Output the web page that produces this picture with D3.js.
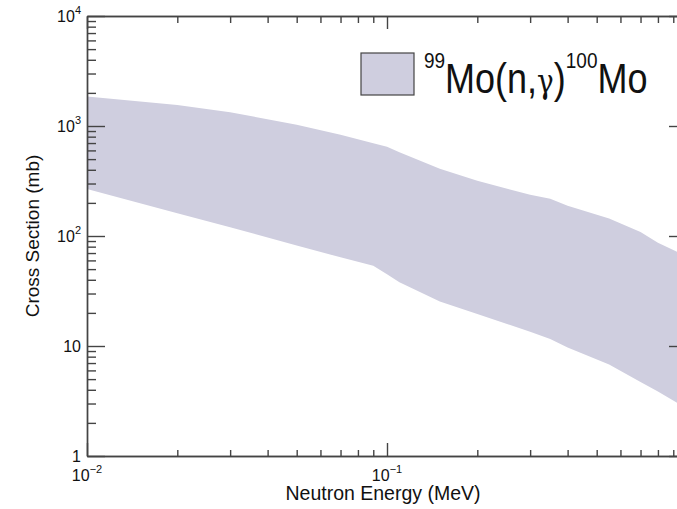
<!DOCTYPE html>
<html>
<head>
<meta charset="utf-8">
<script src="https://cdn.jsdelivr.net/npm/d3@7"></script>
<style>
  body { margin: 0; background: #fff; }
  svg { display: block; font-family: "Liberation Sans", Arial, Helvetica, sans-serif; }
  .axis path, .axis line { stroke: #444; stroke-width: 1.4; }
</style>
</head>
<body>
<svg width="677" height="509"></svg>
<script>
// band data: 99Mo(n,g)100Mo cross section range (mb) vs neutron energy (MeV)
const energies = [0.01, 0.02, 0.03, 0.05, 0.07, 0.09, 0.1, 0.11, 0.15, 0.2, 0.3, 0.35, 0.4, 0.55, 0.7, 0.8, 1.0];
const upperMb  = [1858, 1550, 1335, 1025, 832, 698, 649, 577, 409, 318, 237, 218, 188, 144, 109, 87, 65];
const lowerMb  = [267, 161, 120, 82, 64, 53.7, 45, 38, 25.4, 19.5, 13.5, 11.6, 9.7, 6.8, 4.7, 3.85, 2.7];

const yMajor = [1, 10, 100, 1000, 10000];
const yLabels = [["1", ""], ["10", ""], ["10", "2"], ["10", "3"], ["10", "4"]];
const xMajor = [0.01, 0.1, 1];
// the 10^0 label falls outside the visible picture
const xLabels = [["10", "-2"], ["10", "-1"]];

const svg = d3.select("svg");

const x = d3.scaleLog().domain([0.01, 1]).range([87, 687]);
const y = d3.scaleLog().domain([1, 10000]).range([456, 16]);

const minorOf = (lo, hi) => {
  const out = [];
  for (let p = lo; p < hi; p *= 10) for (let k = 2; k <= 9; k++) out.push(p * k);
  return out;
};
const yMinor = minorOf(1, 10000);
const xMinor = minorOf(0.01, 1);

// band
const band = energies.map((e, i) => ({ e, lo: lowerMb[i], hi: upperMb[i] }));
const area = d3.area()
  .x(d => x(d.e))
  .y0(d => y(d.lo))
  .y1(d => y(d.hi));

svg.append("path")
  .datum(band)
  .attr("d", area)
  .attr("fill", "#cfcedf");

// axes (ticks pointing inward)
const addAxis = (axisFn, scale, tx, ty, vals, size) => {
  svg.append("g")
    .attr("class", "axis")
    .attr("transform", `translate(${tx},${ty})`)
    .call(axisFn(scale).tickValues(vals).tickSize(size).tickSizeOuter(0).tickFormat(""));
};
addAxis(d3.axisRight, y, 87, 0, yMinor, 9);
addAxis(d3.axisRight, y, 87, 0, yMajor, 18);
addAxis(d3.axisLeft, y, 687, 0, yMinor, 9);
addAxis(d3.axisLeft, y, 687, 0, yMajor, 18);
addAxis(d3.axisTop, x, 0, 456, xMinor, 6);
addAxis(d3.axisTop, x, 0, 456, xMajor, 13);
addAxis(d3.axisBottom, x, 0, 16, xMinor, 7);
addAxis(d3.axisBottom, x, 0, 16, xMajor, 13);

// y tick labels
yMajor.forEach((v, i) => {
  const [base, sup] = yLabels[i];
  const t = svg.append("text")
    .attr("x", 81)
    .attr("y", y(v) + 6)
    .attr("text-anchor", "end")
    .attr("font-size", 16)
    .attr("fill", "#111");
  t.append("tspan").text(base);
  if (sup) t.append("tspan").attr("font-size", 11).attr("dy", -8).text(sup);
});

// x tick labels
xLabels.forEach(([base, sup], i) => {
  const t = svg.append("text")
    .attr("x", x(xMajor[i]))
    .attr("y", 481)
    .attr("text-anchor", "middle")
    .attr("font-size", 16)
    .attr("fill", "#111");
  t.append("tspan").text(base);
  t.append("tspan").attr("font-size", 11).attr("dy", -8).text(sup.replace("-", "\u2212"));
});

// axis titles
svg.append("text")
  .attr("x", 383)
  .attr("y", 500)
  .attr("text-anchor", "middle")
  .attr("font-size", 19.5)
  .attr("fill", "#111")
  .text("Neutron Energy (MeV)");

svg.append("text")
  .attr("transform", "translate(39,236) rotate(-90)")
  .attr("text-anchor", "middle")
  .attr("font-size", 19)
  .attr("fill", "#111")
  .text("Cross Section (mb)");

// legend
svg.append("rect")
  .attr("x", 361).attr("y", 53)
  .attr("width", 53).attr("height", 42)
  .attr("fill", "#cfcedf")
  .attr("stroke", "#444")
  .attr("stroke-width", 1.2);

const lt = svg.append("text")
  .attr("transform", "translate(424,93) scale(1,1.17)")
  .attr("font-size", 36)
  .attr("fill", "#111");
lt.append("tspan").attr("font-size", 19).attr("dy", -21).text("99");
lt.append("tspan").attr("dy", 21).text("Mo(n,");
lt.append("tspan").attr("font-size", 28).attr("font-family", "DejaVu Serif, serif").text("\u03B3");
lt.append("tspan").text(")");
lt.append("tspan").attr("font-size", 19).attr("dy", -21).text("100");
lt.append("tspan").attr("dy", 21).text("Mo");
</script>
</body>
</html>
